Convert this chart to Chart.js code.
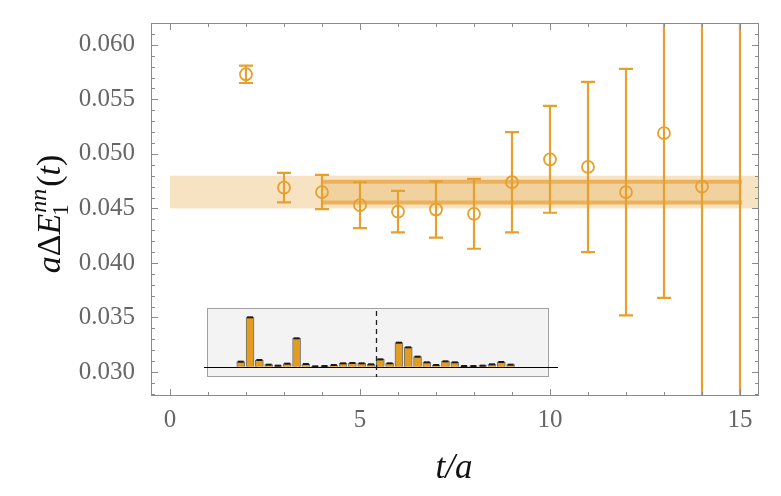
<!DOCTYPE html>
<html>
<head>
<meta charset="utf-8">
<script src="https://cdn.jsdelivr.net/npm/chart.js@4.4.1/dist/chart.umd.min.js"></script>
<style>
  body { margin: 0; background: #fff; }
  #wrap { position: relative; width: 781px; height: 496px; }
  #inset { position: absolute; left: 200px; top: 300px; }
</style>
</head>
<body>
<div id="wrap">
  <canvas id="main" width="781" height="496"></canvas>
  <canvas id="inset" width="360" height="85"></canvas>
</div>
<script>
// effective energy per time slice
var timeSlices = [2, 3, 4, 5, 6, 7, 8, 9, 10, 11, 12, 13, 14, 15];
var energies = [0.0573, 0.0469, 0.0465, 0.0453, 0.0447, 0.0449, 0.0445, 0.0474, 0.0495, 0.0488, 0.0465, 0.0519, 0.0470, 0.0700];
var errors = [0.0008, 0.00135, 0.00157, 0.0021, 0.0019, 0.00257, 0.0032, 0.0046, 0.0049, 0.0078, 0.0113, 0.0151, 0.0300, 0.0500];

// fit bands
var plateauRange = [0, 15.5];
var plateauBand = [0.0450, 0.0480];
var fitRange = [4, 15.05];
var fitBand = [0.04555, 0.04745];

var xTicks = [0, 5, 10, 15];
var yTicks = [0.030, 0.035, 0.040, 0.045, 0.050, 0.055, 0.060];

// inset histogram
var insetIndex = [1, 2, 3, 4, 5, 6, 7, 8, 9, 10, 11, 12, 13, 14, 15, 16, 17, 18, 19, 20, 21, 22, 23, 24, 25, 26, 27, 28, 29, 30];
var insetHeights = [15, 148, 20, 6, 3, 9, 85, 8, 1, 2, 5, 10, 11, 10, 7, 22, 10, 72, 58, 30, 13, 5, 16, 13, 2, 2, 3, 7, 14, 6];
var insetSplit = 15.5;

var orange = '#E6A02E';
var serif = '"Liberation Serif", "DejaVu Serif", serif';

var bandPlugin = {
  id: 'bands',
  beforeDatasetsDraw: function(chart) {
    var ctx = chart.ctx, x = chart.scales.x, y = chart.scales.y, a = chart.chartArea;
    ctx.save();
    ctx.beginPath();
    ctx.rect(a.left, a.top, a.width, a.height);
    ctx.clip();

    var x0 = x.getPixelForValue(plateauRange[0]), x1 = x.getPixelForValue(plateauRange[1]);
    var y0 = y.getPixelForValue(plateauBand[1]), y1 = y.getPixelForValue(plateauBand[0]);
    ctx.fillStyle = '#F7E3C1';
    ctx.fillRect(x0, y0, x1 - x0, y1 - y0);

    x0 = x.getPixelForValue(fitRange[0]); x1 = x.getPixelForValue(fitRange[1]);
    y0 = y.getPixelForValue(fitBand[1]); y1 = y.getPixelForValue(fitBand[0]);
    ctx.fillStyle = '#F1D29F';
    ctx.fillRect(x0, y0, x1 - x0, y1 - y0);
    ctx.strokeStyle = '#EBB15C';
    ctx.lineWidth = 4;
    ctx.beginPath();
    ctx.moveTo(x0, y0); ctx.lineTo(x1, y0);
    ctx.moveTo(x0, y1); ctx.lineTo(x1, y1);
    ctx.stroke();

    // error bars
    ctx.strokeStyle = orange;
    ctx.lineWidth = 2.2;
    for (var i = 0; i < timeSlices.length; i++) {
      var px = x.getPixelForValue(timeSlices[i]);
      var top = y.getPixelForValue(energies[i] + errors[i]);
      var bot = y.getPixelForValue(energies[i] - errors[i]);
      ctx.beginPath();
      ctx.moveTo(px, top); ctx.lineTo(px, bot);
      ctx.moveTo(px - 7, top); ctx.lineTo(px + 7, top);
      ctx.moveTo(px - 7, bot); ctx.lineTo(px + 7, bot);
      ctx.stroke();
    }
    ctx.restore();
  },
  afterDraw: function(chart) {
    var ctx = chart.ctx, x = chart.scales.x, y = chart.scales.y, a = chart.chartArea;
    ctx.save();
    ctx.strokeStyle = '#8a8a8a';
    ctx.lineWidth = 1;
    ctx.strokeRect(a.left + 0.5, a.top + 0.5, a.width - 1, a.height - 1);
    ctx.beginPath();
    for (var t = 0; t <= 15; t++) {
      var px = Math.round(x.getPixelForValue(t)) + 0.5;
      var len = (t % 5 === 0) ? 7 : 4;
      ctx.moveTo(px, a.bottom); ctx.lineTo(px, a.bottom - len);
      ctx.moveTo(px, a.top); ctx.lineTo(px, a.top + len);
    }
    for (var k = 28; k <= 62; k++) {
      var py = Math.round(y.getPixelForValue(k / 1000)) + 0.5;
      var l2 = (k % 5 === 0) ? 7 : 4;
      ctx.moveTo(a.left, py); ctx.lineTo(a.left + l2, py);
      ctx.moveTo(a.right, py); ctx.lineTo(a.right - l2, py);
    }
    ctx.stroke();

    // axis titles
    ctx.fillStyle = '#111';
    ctx.textBaseline = 'alphabetic';
    ctx.textAlign = 'center';
    ctx.font = 'italic 35px ' + serif;
    ctx.fillText('t/a', 454, 478);

    ctx.translate(60, 214);
    ctx.rotate(-Math.PI / 2);
    var parts = [
      { s: 'a', f: 'italic 34px ', dy: 0 },
      { s: '\u0394', f: '34px ', dy: 0 },
      { s: 'E', f: 'italic 34px ', dy: 0 },
      { s: 'nn', f: 'italic 24px ', dy: -14, sub: '1' },
      { s: '(', f: '34px ', dy: 0 },
      { s: 't', f: 'italic 34px ', dy: 0 },
      { s: ')', f: '34px ', dy: 0 }
    ];
    var total = 0;
    parts.forEach(function(p) { ctx.font = p.f + serif; p.w = ctx.measureText(p.s).width + (p.sub ? 3 : 0); total += p.w; });
    var cx = -total / 2;
    ctx.textAlign = 'left';
    parts.forEach(function(p) {
      ctx.font = p.f + serif;
      ctx.fillText(p.s, cx + (p.sub ? 1 : 0), p.dy);
      if (p.sub) {
        ctx.font = '23px ' + serif;
        ctx.fillText(p.sub, cx - 2, 8);
      }
      cx += p.w;
    });
    ctx.restore();
  }
};

new Chart('main', {
  type: 'scatter',
  data: {
    datasets: [{
      data: timeSlices.map(function(t, i) { return { x: t, y: energies[i] }; }),
      pointStyle: 'circle',
      pointRadius: 6,
      pointHoverRadius: 6,
      borderWidth: 1.8,
      borderColor: orange,
      backgroundColor: 'rgba(0,0,0,0)'
    }]
  },
  options: {
    responsive: false,
    animation: false,
    events: [],
    layout: { padding: { left: 0, top: 22, right: 22, bottom: 0 } },
    plugins: { legend: { display: false }, tooltip: { enabled: false } },
    scales: {
      x: {
        type: 'linear', min: -0.5, max: 15.5,
        grid: { display: false }, border: { display: false },
        afterBuildTicks: function(s) { s.ticks = xTicks.map(function(v) { return { value: v }; }); },
        afterFit: function(s) { s.height = 100; },
        ticks: { color: '#666', padding: 1, maxRotation: 0, font: { family: serif, size: 25 } }
      },
      y: {
        type: 'linear', min: 0.0278, max: 0.0620,
        grid: { display: false }, border: { display: false },
        afterBuildTicks: function(s) { s.ticks = yTicks.map(function(v) { return { value: v }; }); },
        afterFit: function(s) { s.width = 151; },
        ticks: {
          color: '#666', padding: 8, font: { family: serif, size: 25 },
          callback: function(v) { return v.toFixed(3); }
        }
      }
    }
  },
  plugins: [bandPlugin]
});

var insetPlugin = {
  id: 'insetBox',
  beforeDraw: function(chart) {
    var ctx = chart.ctx, a = chart.chartArea;
    ctx.save();
    ctx.fillStyle = '#f3f3f3';
    ctx.fillRect(a.left, a.top, a.width, a.height);
    ctx.strokeStyle = '#a0a0a0';
    ctx.lineWidth = 1;
    ctx.strokeRect(a.left + 0.5, a.top + 0.5, a.width - 1, a.height - 1);
    ctx.restore();
  },
  afterDatasetsDraw: function(chart) {
    var ctx = chart.ctx, a = chart.chartArea, x = chart.scales.x, y = chart.scales.y;
    ctx.save();
    // caps on bars
    ctx.fillStyle = '#1a1a1a';
    for (var i = 0; i < insetIndex.length; i++) {
      var px = x.getPixelForValue(insetIndex[i]);
      var py = y.getPixelForValue(insetHeights[i]);
      ctx.fillRect(px - 3, py - 1, 6, 2);
    }
    // baseline
    var y0 = Math.round(y.getPixelForValue(0)) + 0.5;
    ctx.strokeStyle = '#000';
    ctx.lineWidth = 1.2;
    ctx.beginPath();
    ctx.moveTo(a.left - 3, y0); ctx.lineTo(a.right + 9, y0);
    ctx.stroke();
    // split line
    var sx = Math.round(x.getPixelForValue(insetSplit)) + 0.5;
    ctx.strokeStyle = '#222';
    ctx.lineWidth = 1.3;
    ctx.setLineDash([5, 4]);
    ctx.beginPath();
    ctx.moveTo(sx, a.top + 3); ctx.lineTo(sx, a.bottom);
    ctx.stroke();
    ctx.restore();
  }
};

new Chart('inset', {
  type: 'bar',
  data: {
    datasets: [{
      data: insetIndex.map(function(v, i) { return { x: v, y: insetHeights[i] }; }),
      backgroundColor: '#E39C22',
      borderColor: '#707070',
      borderWidth: 1,
      barThickness: 8
    }]
  },
  options: {
    responsive: false,
    animation: false,
    events: [],
    layout: { padding: { left: 7, top: 8, right: 11, bottom: 8 } },
    plugins: { legend: { display: false }, tooltip: { enabled: false } },
    scales: {
      x: { type: 'linear', min: 0, max: 31.5, display: false },
      y: { min: -31, max: 176, display: false }
    }
  },
  plugins: [insetPlugin]
});
</script>
</body>
</html>
